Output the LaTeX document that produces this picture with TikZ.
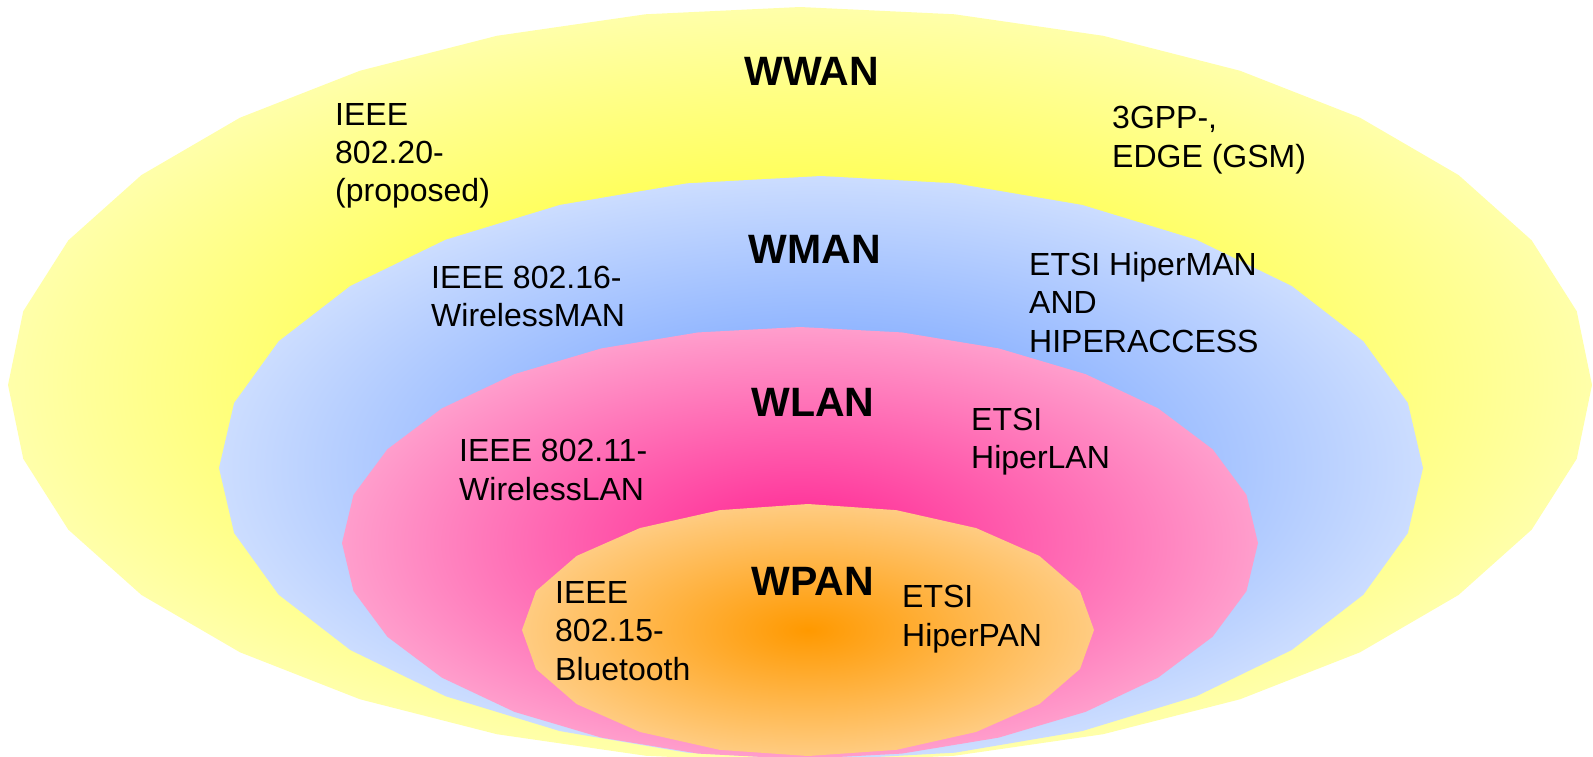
\documentclass[tikz,border=0pt]{standalone}
\usepackage{fontspec}
\setmainfont{Liberation Sans}
\definecolor{yelC}{HTML}{FFFF00}
\definecolor{yelE}{HTML}{FFFFAA}
\definecolor{bluC}{HTML}{5D93FF}
\definecolor{bluE}{HTML}{CCDDFF}
\definecolor{pnkC}{HTML}{FF2392}
\definecolor{pnkE}{HTML}{FF9ECC}
\definecolor{orgC}{HTML}{FF9900}
\definecolor{orgE}{HTML}{FFCC82}
\pgfdeclareradialshading{yelshade}{\pgfpointorigin}{color(0bp)=(yelC); color(25bp)=(yelE); color(50bp)=(yelE)}
\pgfdeclareradialshading{blushade}{\pgfpointorigin}{color(0bp)=(bluC); color(25bp)=(bluE); color(50bp)=(bluE)}
\pgfdeclareradialshading{pnkshade}{\pgfpointorigin}{color(0bp)=(pnkC); color(25bp)=(pnkE); color(50bp)=(pnkE)}
\pgfdeclareradialshading{orgshade}{\pgfpointorigin}{color(0bp)=(orgC); color(25bp)=(orgE); color(50bp)=(orgE)}
\begin{document}
\begin{tikzpicture}[x=1pt,y=-1pt,
  title/.style={font=\fontsize{41}{49}\selectfont\bfseries, anchor=base, inner sep=0pt},
  body/.style={font=\fontsize{32}{38}\selectfont, anchor=base west, inner sep=0pt}]
\useasboundingbox (0,0) rectangle (1593,756);
% zones
\shade[shading=yelshade] plot[domain=0:360,samples=33] ({800+792*cos(\x)},{385+378*sin(\x)}) -- cycle;
\shade[shading=blushade] plot[domain=0:360,samples=29] ({821+602*cos(\x)},{468+292*sin(\x)}) -- cycle;
\shade[shading=pnkshade] plot[domain=0:360,samples=29] ({800+458*cos(\x)},{543+216*sin(\x)}) -- cycle;
\shade[shading=orgshade] plot[domain=0:360,samples=21] ({808+286*cos(\x)},{630+126*sin(\x)}) -- cycle;
% titles
\node[title] (wwan) at (812,85) {WWAN};
\node[title] (wman) at (815,263) {WMAN};
\node[title] (wlan) at (813,416) {WLAN};
\node[title] (wpan) at (813,595) {WPAN};
% WWAN texts
\node[body] (a1) at (335,125) {IEEE};
\node[body] (a2) at (335,163) {802.20-};
\node[body] (a3) at (335,201) {(proposed)};
\node[body] (b1) at (1112,128) {3GPP-,};
\node[body] (b2) at (1112,167) {EDGE (GSM)};
% WMAN texts
\node[body] (c1) at (431,288) {IEEE 802.16-};
\node[body] (c2) at (431,326) {WirelessMAN};
\node[body] (d1) at (1029,275) {ETSI HiperMAN};
\node[body] (d2) at (1029,313) {AND};
\node[body] (d3) at (1029,352) {HIPERACCESS};
% WLAN texts
\node[body] (e1) at (459,461) {IEEE 802.11-};
\node[body] (e2) at (459,500) {WirelessLAN};
\node[body] (f1) at (971,430) {ETSI};
\node[body] (f2) at (971,468) {HiperLAN};
% WPAN texts
\node[body] (g1) at (555,603) {IEEE};
\node[body] (g2) at (555,641) {802.15-};
\node[body] (g3) at (555,680) {Bluetooth};
\node[body] (h1) at (902,607) {ETSI};
\node[body] (h2) at (902,646) {HiperPAN};
\end{tikzpicture}
\end{document}
